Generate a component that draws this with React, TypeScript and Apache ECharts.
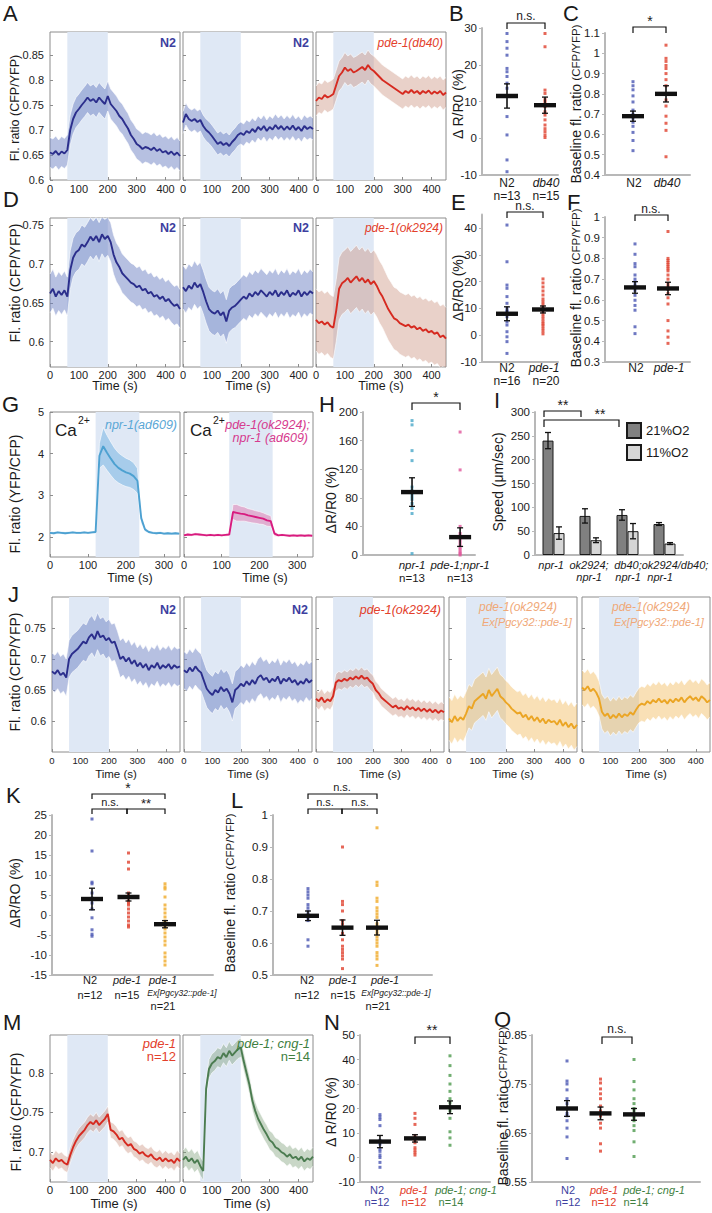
import React, { useEffect, useRef } from 'react';
import * as echarts from 'echarts';

const FONT = "'Liberation Sans', Arial, Helvetica, sans-serif";

// ---------- time bases ----------
const TIME_S = [0,10,20,30,40,50,60,70,80,90,100,110,120,130,140,150,160,170,180,190,200,210,220,230,240,250,260,270,280,290,300,310,320,330,340,350,360,370,380,390,400,410,420,430,440,450];
const TIME_G = [0,10,20,30,40,50,60,70,80,90,100,110,120,130,140,150,160,170,180,190,200,210,220,230,240,250,260,270,280,290,300,310,320,330,340];

// ---------- traces (mean) ----------
const A1_N2 = [0.655,0.652,0.658,0.650,0.657,0.653,0.660,0.700,0.722,0.735,0.742,0.750,0.757,0.765,0.758,0.762,0.755,0.765,0.758,0.752,0.768,0.752,0.745,0.738,0.728,0.722,0.712,0.703,0.690,0.682,0.672,0.668,0.662,0.666,0.664,0.660,0.665,0.658,0.662,0.655,0.658,0.652,0.657,0.650,0.655,0.648];
const A2_N2 = [0.715,0.732,0.722,0.718,0.722,0.716,0.720,0.708,0.700,0.695,0.688,0.680,0.672,0.676,0.670,0.674,0.668,0.676,0.682,0.690,0.694,0.690,0.698,0.694,0.702,0.696,0.706,0.700,0.708,0.698,0.706,0.701,0.710,0.702,0.708,0.700,0.707,0.701,0.709,0.700,0.706,0.698,0.708,0.702,0.706,0.702];
const A3_DB40 = [0.758,0.765,0.762,0.770,0.765,0.768,0.772,0.790,0.808,0.815,0.825,0.818,0.822,0.815,0.818,0.822,0.826,0.820,0.830,0.822,0.818,0.812,0.806,0.800,0.796,0.792,0.788,0.784,0.780,0.776,0.772,0.778,0.774,0.780,0.774,0.778,0.772,0.778,0.774,0.779,0.772,0.777,0.773,0.778,0.770,0.775];
const D1_N2 = [0.662,0.668,0.658,0.665,0.660,0.666,0.658,0.692,0.708,0.715,0.718,0.725,0.722,0.728,0.735,0.730,0.736,0.728,0.738,0.732,0.736,0.728,0.712,0.702,0.696,0.688,0.684,0.680,0.676,0.674,0.670,0.672,0.666,0.668,0.662,0.664,0.658,0.660,0.655,0.658,0.652,0.655,0.650,0.646,0.648,0.642];
const D2_N2 = [0.670,0.665,0.672,0.668,0.676,0.670,0.674,0.664,0.652,0.642,0.638,0.636,0.640,0.634,0.638,0.626,0.640,0.644,0.646,0.650,0.654,0.658,0.655,0.662,0.658,0.664,0.660,0.666,0.662,0.658,0.664,0.660,0.666,0.658,0.664,0.660,0.666,0.658,0.663,0.660,0.666,0.658,0.664,0.660,0.665,0.662];
const D3_OK2924 = [0.628,0.624,0.626,0.622,0.625,0.620,0.618,0.640,0.668,0.675,0.678,0.682,0.676,0.680,0.684,0.678,0.682,0.676,0.680,0.674,0.678,0.672,0.664,0.658,0.650,0.642,0.636,0.630,0.628,0.624,0.622,0.620,0.622,0.618,0.620,0.616,0.618,0.614,0.616,0.612,0.614,0.610,0.612,0.606,0.608,0.604];
const G1_NPR1 = [2.10,2.09,2.11,2.10,2.09,2.10,2.11,2.10,2.10,2.11,2.10,2.11,2.12,3.95,4.18,4.02,3.88,3.75,3.66,3.60,3.55,3.52,3.46,3.35,2.45,2.18,2.12,2.10,2.09,2.10,2.08,2.09,2.08,2.09,2.08];
const G1_SEM = [0.03,0.03,0.03,0.03,0.03,0.03,0.03,0.03,0.03,0.03,0.03,0.03,0.03,0.30,0.45,0.42,0.40,0.38,0.36,0.35,0.34,0.33,0.32,0.30,0.12,0.05,0.03,0.03,0.03,0.03,0.03,0.03,0.03,0.03,0.03];
const G2_PDE1NPR1 = [2.04,2.06,2.05,2.07,2.06,2.05,2.04,2.05,2.04,2.05,2.04,2.05,2.06,2.60,2.58,2.56,2.55,2.52,2.50,2.48,2.46,2.44,2.40,2.38,2.08,2.04,2.05,2.04,2.03,2.04,2.03,2.04,2.03,2.04,2.03];
const G2_SEM = [0.03,0.03,0.03,0.03,0.03,0.03,0.03,0.03,0.03,0.03,0.03,0.03,0.03,0.18,0.20,0.18,0.17,0.16,0.16,0.15,0.15,0.14,0.14,0.13,0.06,0.03,0.03,0.03,0.03,0.03,0.03,0.03,0.03,0.03,0.03];
const J1_N2 = [0.680,0.676,0.682,0.674,0.678,0.670,0.700,0.708,0.712,0.716,0.722,0.728,0.725,0.735,0.740,0.732,0.745,0.735,0.738,0.730,0.734,0.726,0.728,0.715,0.700,0.704,0.696,0.702,0.692,0.698,0.688,0.694,0.686,0.692,0.682,0.690,0.686,0.694,0.684,0.690,0.686,0.692,0.684,0.690,0.686,0.688];
const J2_N2 = [0.682,0.678,0.686,0.680,0.688,0.682,0.678,0.665,0.652,0.646,0.642,0.650,0.646,0.655,0.648,0.652,0.644,0.630,0.650,0.654,0.660,0.656,0.664,0.658,0.666,0.660,0.670,0.674,0.666,0.670,0.662,0.668,0.664,0.672,0.660,0.668,0.664,0.670,0.662,0.666,0.658,0.664,0.660,0.668,0.662,0.666];
const J3_OK2924 = [0.636,0.632,0.638,0.630,0.635,0.632,0.640,0.662,0.666,0.664,0.668,0.665,0.670,0.667,0.672,0.668,0.673,0.668,0.670,0.664,0.660,0.650,0.645,0.638,0.634,0.630,0.626,0.622,0.625,0.620,0.622,0.618,0.624,0.619,0.622,0.617,0.621,0.616,0.620,0.615,0.619,0.614,0.618,0.613,0.617,0.614];
const J4_RESCUE_A = [0.604,0.598,0.608,0.600,0.606,0.602,0.612,0.624,0.620,0.632,0.636,0.640,0.644,0.636,0.650,0.640,0.646,0.652,0.640,0.636,0.630,0.626,0.620,0.616,0.612,0.614,0.606,0.610,0.602,0.608,0.600,0.606,0.598,0.604,0.596,0.602,0.598,0.600,0.594,0.602,0.592,0.598,0.590,0.596,0.588,0.594];
const J5_RESCUE_B = [0.654,0.650,0.656,0.648,0.652,0.646,0.636,0.615,0.608,0.612,0.604,0.610,0.605,0.612,0.606,0.611,0.608,0.614,0.610,0.618,0.625,0.628,0.626,0.632,0.628,0.634,0.630,0.636,0.630,0.634,0.628,0.635,0.630,0.636,0.632,0.638,0.630,0.636,0.640,0.634,0.638,0.632,0.640,0.636,0.630,0.634];
const M1_PDE1 = [0.690,0.686,0.692,0.688,0.690,0.686,0.684,0.696,0.706,0.714,0.720,0.724,0.728,0.734,0.738,0.735,0.740,0.734,0.738,0.742,0.748,0.728,0.726,0.722,0.716,0.718,0.712,0.708,0.710,0.704,0.702,0.698,0.700,0.696,0.694,0.697,0.692,0.690,0.693,0.688,0.692,0.688,0.690,0.686,0.692,0.688];
const M2_CNG1 = [0.690,0.694,0.688,0.692,0.686,0.690,0.682,0.676,0.780,0.805,0.812,0.815,0.820,0.818,0.825,0.820,0.828,0.822,0.826,0.830,0.832,0.815,0.800,0.785,0.765,0.752,0.742,0.735,0.728,0.722,0.715,0.712,0.706,0.704,0.700,0.698,0.694,0.697,0.692,0.694,0.690,0.694,0.688,0.692,0.690,0.694];

// ---------- tick labels ----------
const X_TICKS = [0, 100, 200, 300, 400];
const X_TICKS_G = [0, 100, 200, 300];
const Y_A = [0.6, 0.65, 0.7, 0.75, 0.8, 0.85];
const Y_D = [0.6, 0.65, 0.7, 0.75];
const Y_G = [2, 3, 4, 5];
const Y_J = [0.6, 0.65, 0.7, 0.75];
const Y_M = [0.7, 0.75, 0.8];
const Y_B = [-10, 0, 10, 20, 30];
const Y_C = [0.4, 0.5, 0.6, 0.7, 0.8, 0.9, 1, 1.1];
const Y_E = [-10, 0, 10, 20, 30, 40];
const Y_F = [0.3, 0.4, 0.5, 0.6, 0.7, 0.8, 0.9, 1];
const Y_H = [0, 40, 80, 120, 160, 200];
const Y_I = [0, 50, 100, 150, 200, 250, 300];
const Y_K = [-15, -10, -5, 0, 5, 10, 15, 20, 25];
const Y_L = [0.5, 0.6, 0.7, 0.8, 0.9, 1];
const Y_N = [-10, 0, 10, 20, 30, 40, 50];
const Y_O = [0.55, 0.65, 0.75, 0.85];

// ---------- scatter data ----------
const B_N2 = [28.5, 26.3, 24.5, 22.6, 19.0, 18.1, 16.8, 15.0, 13.6, 5.9, 0.9, -5.9, -9.1];
const B_DB40 = [28.5, 24.9, 13.1, 12.2, 10.5, 9.8, 8.6, 7.2, 6.3, 5.0, 3.6, 2.6, 1.8, 0.9, 0.2];
const B_MEAN = [11.5, 9.0];
const B_SEM = [3.3, 2.2];
const C_N2 = [0.86, 0.84, 0.82, 0.79, 0.76, 0.72, 0.70, 0.68, 0.66, 0.64, 0.61, 0.57, 0.52];
const C_DB40 = [1.04, 0.975, 0.96, 0.94, 0.925, 0.90, 0.87, 0.84, 0.80, 0.77, 0.74, 0.69, 0.655, 0.62, 0.49];
const C_MEAN = [0.69, 0.80];
const C_SEM = [0.025, 0.04];
const E_N2 = [41.1, 27.4, 18.7, 17.5, 14.4, 11.9, 10.0, 9.0, 8.8, 6.9, 5.0, 3.8, 1.3, -0.6, -2.4, -6.8];
const E_PDE1 = [21, 19.5, 18, 16.5, 15, 13.5, 12.5, 11.5, 10.5, 9.8, 9, 8, 7, 6, 5, 4.2, 3.5, 2.5, 1.5, 0.5];
const E_MEAN = [8.0, 9.6];
const E_SEM = [2.6, 1.3];
const F_N2 = [0.87, 0.82, 0.775, 0.76, 0.72, 0.70, 0.686, 0.67, 0.66, 0.646, 0.622, 0.598, 0.573, 0.55, 0.47, 0.437];
const F_PDE1 = [0.93, 0.80, 0.79, 0.78, 0.77, 0.76, 0.75, 0.74, 0.72, 0.70, 0.68, 0.665, 0.65, 0.63, 0.61, 0.58, 0.50, 0.45, 0.42, 0.39];
const F_MEAN = [0.66, 0.655];
const F_SEM = [0.028, 0.03];
const H_NPR1 = [188, 182, 146, 132, 95, 90, 86, 82, 78, 72, 65, 58, 2];
const H_PDE1NPR1 = [172, 119, 40, 30, 26, 22, 18, 14, 10, 7, 4, 2, 0];
const H_MEAN = [88, 25];
const H_SEM = [20, 13];
const K_N2 = [24, 16, 8.2, 7.8, 5.5, 4.2, 3, 1.5, -0.7, -3.7, -4.8, -5.3];
const K_PDE1 = [15.5, 13.2, 11.5, 5.5, 5, 4.5, 3.5, 3, 2.5, 1.5, 0.5, -0.5, -1.5, -2.5, -3];
const K_EX = [7.8, 7, 6.5, 4.5, 2.5, 1.5, 0.5, -0.5, -1.5, -2, -2.5, -3, -3.5, -4.5, -5.5, -6.5, -7.5, -9.5, -10.5, -11.5, -12.5];
const K_MEAN = [4.0, 4.5, -2.3];
const K_SEM = [2.7, 1.0, 0.9];
const L_N2 = [0.77, 0.76, 0.75, 0.74, 0.72, 0.71, 0.70, 0.69, 0.68, 0.67, 0.61, 0.59];
const L_PDE1 = [0.90, 0.73, 0.72, 0.70, 0.67, 0.66, 0.65, 0.63, 0.61, 0.59, 0.58, 0.57, 0.56, 0.55, 0.52];
const L_EX = [0.96, 0.79, 0.78, 0.74, 0.73, 0.71, 0.70, 0.69, 0.68, 0.66, 0.65, 0.64, 0.63, 0.62, 0.61, 0.60, 0.59, 0.57, 0.56, 0.55, 0.53];
const L_MEAN = [0.685, 0.648, 0.648];
const L_SEM = [0.015, 0.024, 0.023];
const N_N2 = [17.5, 16.5, 15.5, 13, 7, 5.5, 3.5, 2.5, 1, 0, -2, -4];
const N_PDE1 = [18, 16, 13.5, 9, 8, 7.5, 7, 6, 4, 3, 2, 1];
const N_CNG1 = [41.5, 37.5, 33.5, 30, 27, 24, 22.5, 21, 20, 19, 16, 10.5, 8, 5];
const N_MEAN = [6.5, 7.8, 20.5];
const N_SEM = [2.5, 1.5, 2.6];
const O_N2 = [0.797, 0.756, 0.75, 0.738, 0.72, 0.71, 0.69, 0.685, 0.675, 0.66, 0.642, 0.598];
const O_PDE1 = [0.76, 0.752, 0.74, 0.73, 0.72, 0.705, 0.695, 0.685, 0.67, 0.66, 0.628, 0.613];
const O_CNG1 = [0.80, 0.755, 0.738, 0.72, 0.71, 0.70, 0.695, 0.685, 0.68, 0.675, 0.665, 0.655, 0.632, 0.602];
const O_MEAN = [0.70, 0.69, 0.688];
const O_SEM = [0.016, 0.013, 0.012];

// ---------- bar data (I) ----------
const I_CATS = ['npr-1', 'ok2924; npr-1', 'db40; npr-1', 'ok2924/db40; npr-1'];
const SPEED_21 = [240, 82, 84, 65];
const ERR_21 = [17, 15, 11, 3];
const SPEED_11 = [46, 31, 50, 24];
const ERR_11 = [13, 5, 16, 2];

// ---------- styles ----------
const NAVY = '#2b2e8c', NAVY_BAND = 'rgba(110,130,195,0.5)';
const RED = '#d62a20', RED_BAND = 'rgba(200,140,120,0.4)';
const ORANGE = '#eba524', ORANGE_BAND = 'rgba(240,180,80,0.42)';
const GREEN = '#4b7c50', GREEN_BAND = 'rgba(120,155,115,0.4)';
const SKY = '#4da1d1', SKY_BAND = 'rgba(100,170,225,0.45)';
const MAG = '#d81b7f', MAG_BAND = 'rgba(225,90,155,0.4)';
const SHADE = '#dfe8f5';
const FRAME = '#8c8c8c';
const AXIS_GRAY = '#b8b8b8';
const DOT_BLUE = '#4a56b3', DOT_RED = '#e0412e', DOT_ORANGE = '#f0aa28', DOT_GREEN = '#4e9a4e', DOT_TEAL = '#4aa8c8', DOT_PINK = '#e0559a';
const TXT_BLUE = '#3d3fa0', TXT_RED = '#e3402b', TXT_GREEN = '#3f7f3f', TXT_PEACH = '#f0a878';

const fmt = (v: number) => `${parseFloat(Number(v).toFixed(3))}`;

function tracePanel(o: any, c: any) {
  const gi = o.grid.length;
  o.grid.push({ left: c.left, top: c.top, width: c.width, height: c.height, show: true, borderColor: FRAME, borderWidth: 1, backgroundColor: 'rgba(0,0,0,0)' });
  o.xAxis.push({
    type: 'value', gridIndex: gi, min: 0, max: c.xMax,
    splitLine: { show: false }, axisLine: { show: false },
    axisTick: { show: true, inside: true, length: 3, lineStyle: { color: FRAME }, customValues: c.xTicks },
    axisLabel: { show: true, customValues: c.xTicks, fontSize: c.xFont, fontFamily: FONT, color: '#222', margin: c.xMargin, formatter: fmt },
  });
  o.yAxis.push({
    type: 'value', gridIndex: gi, min: c.yMin, max: c.yMax,
    splitLine: { show: false }, axisLine: { show: false },
    axisTick: { show: true, inside: true, length: 3, lineStyle: { color: FRAME }, customValues: c.yTicks },
    axisLabel: { show: c.showY, customValues: c.yTicks, fontSize: 11, fontFamily: FONT, color: '#222', margin: 6, formatter: fmt },
  });
  const t: number[] = c.t, m: number[] = c.mean;
  const s = (i: number) => (Array.isArray(c.sem) ? c.sem[i] : c.sem);
  const yMin = c.yMin, yMax = c.yMax, sh = c.shade;
  o.series.push({
    type: 'custom', coordinateSystem: 'cartesian2d', xAxisIndex: gi, yAxisIndex: gi, silent: true, z: 1,
    data: [[sh[0], yMin]],
    renderItem: (_p: any, api: any) => {
      const a = api.coord([sh[0], yMax]);
      const b = api.coord([sh[1], yMin]);
      return { type: 'rect', shape: { x: a[0], y: a[1], width: b[0] - a[0], height: b[1] - a[1] }, style: { fill: SHADE } };
    },
  });
  o.series.push({
    type: 'custom', coordinateSystem: 'cartesian2d', xAxisIndex: gi, yAxisIndex: gi, silent: true, z: 2,
    data: [[t[0], m[0]]],
    renderItem: (_p: any, api: any) => {
      const up = t.map((x, i) => api.coord([x, Math.min(yMax, m[i] + s(i))]));
      const lo = t.map((x, i) => api.coord([x, Math.max(yMin, m[i] - s(i))])).reverse();
      return { type: 'polygon', shape: { points: up.concat(lo) }, style: { fill: c.band } };
    },
  });
  [1, -1].forEach((sign) => {
    o.series.push({
      type: 'line', xAxisIndex: gi, yAxisIndex: gi, silent: true, z: 3, symbol: 'none',
      data: t.map((x, i) => [x, m[i] + sign * s(i)]),
      lineStyle: { color: '#ffffff', width: 0.8, opacity: 0.75 },
    });
  });
  o.series.push({
    type: 'line', xAxisIndex: gi, yAxisIndex: gi, silent: true, z: 4, symbol: 'none',
    data: t.map((x, i) => [x, m[i]]),
    lineStyle: { color: c.color, width: 1.9 },
  });
}

const meanSem = (_p: any, api: any) => {
  const x = api.value(0), m = api.value(1), s = api.value(2);
  const c = api.coord([x, m]);
  const t = api.coord([x, m + s]);
  const b = api.coord([x, m - s]);
  return {
    type: 'group',
    children: [
      { type: 'line', shape: { x1: c[0], y1: t[1], x2: c[0], y2: b[1] }, style: { stroke: '#111', lineWidth: 1.6 } },
      { type: 'line', shape: { x1: c[0] - 3, y1: t[1], x2: c[0] + 3, y2: t[1] }, style: { stroke: '#111', lineWidth: 1.3 } },
      { type: 'line', shape: { x1: c[0] - 3, y1: b[1], x2: c[0] + 3, y2: b[1] }, style: { stroke: '#111', lineWidth: 1.3 } },
      { type: 'rect', shape: { x: c[0] - 11, y: c[1] - 2.2, width: 22, height: 4.4 }, style: { fill: '#111' } },
    ],
  };
};

function scatterPanel(o: any, c: any) {
  const gi = o.grid.length;
  o.grid.push({ left: c.left, top: c.top, width: c.width, height: c.height, show: false });
  o.xAxis.push({
    type: 'value', gridIndex: gi, min: c.xMin, max: c.xMax, splitLine: { show: false },
    axisLine: { show: true, onZero: false, lineStyle: { color: AXIS_GRAY, width: 2 } },
    axisTick: { show: false }, axisLabel: { show: false },
  });
  o.yAxis.push({
    type: 'value', gridIndex: gi, min: c.yMin, max: c.yMax, splitLine: { show: false },
    axisLine: { show: true, onZero: false, lineStyle: { color: AXIS_GRAY, width: 2 } },
    axisTick: { show: true, length: 3, lineStyle: { color: AXIS_GRAY }, customValues: c.yTicks },
    axisLabel: { show: true, customValues: c.yTicks, fontSize: 11.5, fontFamily: FONT, color: '#1a1a1a', margin: 5, formatter: fmt },
  });
  c.groups.forEach((g: any, k: number) => {
    o.series.push({
      type: 'scatter', xAxisIndex: gi, yAxisIndex: gi, silent: true, z: 3,
      data: g.values.map((v: number) => [k + 1, v]),
      symbol: 'rect', symbolSize: 3, itemStyle: { color: g.color },
    });
  });
  o.series.push({
    type: 'custom', coordinateSystem: 'cartesian2d', xAxisIndex: gi, yAxisIndex: gi, silent: true, z: 5,
    dimensions: ['x', 'y', 's'], encode: { x: 0, y: 1 },
    data: c.groups.map((_g: any, k: number) => [k + 1, c.mean[k], c.sem[k]]),
    renderItem: meanSem,
  });
}

const txt = (x: number, y: number, text: string, o: any = {}) => ({
  type: 'text', x, y, rotation: o.rot || 0, silent: true, z: 100,
  style: {
    text, fill: o.color || '#1a1a1a', fontSize: o.size || 12, fontFamily: FONT,
    fontStyle: o.italic ? 'italic' : 'normal', fontWeight: o.bold ? 'bold' : 'normal',
    align: o.align || 'center', verticalAlign: o.va || 'middle',
    textAlign: o.align || 'center', textVerticalAlign: o.va || 'middle',
    ...(o.rich ? { rich: o.rich } : {}),
  },
});
const bracket = (x1: number, x2: number, y: number, leg: number) => ({
  type: 'polyline', silent: true, z: 100,
  shape: { points: [[x1, y + leg], [x1, y], [x2, y], [x2, y + leg]] },
  style: { stroke: '#111', lineWidth: 1.2, fill: null },
});
const ROT = Math.PI / 2;
const baselineTitle = (x: number, y: number) =>
  txt(x, y, '{a|Baseline fl. ratio} {b|(CFP/YFP)}', {
    rot: ROT,
    rich: { a: { fontSize: 14, fontFamily: FONT, fill: '#1a1a1a' }, b: { fontSize: 11.5, fontFamily: FONT, fill: '#1a1a1a' } },
  });

function buildOption() {
  const o: any = { animation: false, grid: [], xAxis: [], yAxis: [], series: [], graphic: { elements: [] } };
  const base = { xMax: 450, t: TIME_S, xTicks: X_TICKS, shade: [60, 200] };

  // Row A
  const rowA = { ...base, top: 32, height: 148, yMin: 0.6, yMax: 0.896, yTicks: Y_A, xFont: 11, xMargin: 3 };
  tracePanel(o, { ...rowA, left: 50, width: 130, showY: true, mean: A1_N2, sem: 0.03, color: NAVY, band: NAVY_BAND });
  tracePanel(o, { ...rowA, left: 183, width: 130, showY: false, mean: A2_N2, sem: 0.022, color: NAVY, band: NAVY_BAND });
  tracePanel(o, { ...rowA, left: 316, width: 130, showY: false, mean: A3_DB40, sem: 0.03, color: RED, band: RED_BAND });
  // Row D
  const rowD = { ...base, top: 218, height: 149, yMin: 0.5675, yMax: 0.759, yTicks: Y_D, xFont: 11, xMargin: 2 };
  tracePanel(o, { ...rowD, left: 50, width: 130, showY: true, mean: D1_N2, sem: 0.025, color: NAVY, band: NAVY_BAND });
  tracePanel(o, { ...rowD, left: 183, width: 130, showY: false, mean: D2_N2, sem: 0.028, color: NAVY, band: NAVY_BAND });
  tracePanel(o, { ...rowD, left: 316, width: 130, showY: false, mean: D3_OK2924, sem: 0.04, color: RED, band: RED_BAND });
  // Row G
  const rowG = { xMax: 342, t: TIME_G, xTicks: X_TICKS_G, shade: [120, 235], top: 412, height: 145, yMin: 1.52, yMax: 5, yTicks: Y_G, xFont: 11, xMargin: 2 };
  tracePanel(o, { ...rowG, left: 50, width: 130, showY: true, mean: G1_NPR1, sem: G1_SEM, color: SKY, band: SKY_BAND });
  tracePanel(o, { ...rowG, left: 184, width: 129, showY: false, mean: G2_PDE1NPR1, sem: G2_SEM, color: MAG, band: MAG_BAND });
  // Row J
  const rowJ = { ...base, top: 597, height: 155, yMin: 0.55, yMax: 0.8, yTicks: Y_J, xFont: 9.5, xMargin: 3 };
  tracePanel(o, { ...rowJ, left: 52, width: 128, showY: true, mean: J1_N2, sem: 0.03, color: NAVY, band: NAVY_BAND });
  tracePanel(o, { ...rowJ, left: 184, width: 128, showY: false, mean: J2_N2, sem: 0.03, color: NAVY, band: NAVY_BAND });
  tracePanel(o, { ...rowJ, left: 316, width: 128, showY: false, mean: J3_OK2924, sem: 0.014, color: RED, band: RED_BAND });
  tracePanel(o, { ...rowJ, left: 449, width: 128, showY: false, mean: J4_RESCUE_A, sem: 0.035, color: ORANGE, band: ORANGE_BAND });
  tracePanel(o, { ...rowJ, left: 582, width: 128, showY: false, mean: J5_RESCUE_B, sem: 0.028, color: ORANGE, band: ORANGE_BAND });
  // Row M
  const rowM = { ...base, top: 1035, height: 147, yMin: 0.662, yMax: 0.848, yTicks: Y_M, xFont: 11.5, xMargin: 2 };
  tracePanel(o, { ...rowM, left: 50, width: 130, showY: true, mean: M1_PDE1, sem: 0.01, color: RED, band: RED_BAND });
  tracePanel(o, { ...rowM, left: 183, width: 130, showY: false, mean: M2_CNG1, sem: 0.012, color: GREEN, band: GREEN_BAND });

  // Scatter panels
  scatterPanel(o, { left: 482, top: 28, width: 76, height: 147, xMin: 0.342, xMax: 2.342, yMin: -10, yMax: 30, yTicks: Y_B, mean: B_MEAN, sem: B_SEM,
    groups: [{ values: B_N2, color: DOT_BLUE }, { values: B_DB40, color: DOT_RED }] });
  scatterPanel(o, { left: 605, top: 33, width: 85, height: 142, xMin: 0.152, xMax: 2.727, yMin: 0.4, yMax: 1.1, yTicks: Y_C, mean: C_MEAN, sem: C_SEM,
    groups: [{ values: C_N2, color: DOT_BLUE }, { values: C_DB40, color: DOT_RED }] });
  scatterPanel(o, { left: 482, top: 214.6, width: 76, height: 147.4, xMin: 0.306, xMax: 2.417, yMin: -10, yMax: 45, yTicks: Y_E, mean: E_MEAN, sem: E_SEM,
    groups: [{ values: E_N2, color: DOT_BLUE }, { values: E_PDE1, color: DOT_RED }] });
  scatterPanel(o, { left: 605, top: 217, width: 85, height: 145, xMin: 0.091, xMax: 2.667, yMin: 0.3, yMax: 1, yTicks: Y_F, mean: F_MEAN, sem: F_SEM,
    groups: [{ values: F_N2, color: DOT_BLUE }, { values: F_PDE1, color: DOT_RED }] });
  scatterPanel(o, { left: 363, top: 412, width: 112, height: 143, xMin: -0.02, xMax: 2.31, yMin: 0, yMax: 200, yTicks: Y_H, mean: H_MEAN, sem: H_SEM,
    groups: [{ values: H_NPR1, color: DOT_TEAL }, { values: H_PDE1NPR1, color: DOT_PINK }] });
  scatterPanel(o, { left: 52, top: 815, width: 161, height: 160, xMin: -0.096, xMax: 4.315, yMin: -15, yMax: 25, yTicks: Y_K, mean: K_MEAN, sem: K_SEM,
    groups: [{ values: K_N2, color: DOT_BLUE }, { values: K_PDE1, color: DOT_RED }, { values: K_EX, color: DOT_ORANGE }] });
  scatterPanel(o, { left: 273, top: 815, width: 159, height: 160, xMin: -0.014, xMax: 4.594, yMin: 0.5, yMax: 1, yTicks: Y_L, mean: L_MEAN, sem: L_SEM,
    groups: [{ values: L_N2, color: DOT_BLUE }, { values: L_PDE1, color: DOT_RED }, { values: L_EX, color: DOT_ORANGE }] });
  scatterPanel(o, { left: 360, top: 1035, width: 130, height: 147, xMin: 0.43, xMax: 4.143, yMin: -10, yMax: 50, yTicks: Y_N, mean: N_MEAN, sem: N_SEM,
    groups: [{ values: N_N2, color: DOT_BLUE }, { values: N_PDE1, color: DOT_RED }, { values: N_CNG1, color: DOT_GREEN }] });
  scatterPanel(o, { left: 532, top: 1035, width: 168, height: 147, xMin: -0.045, xMax: 4.97, yMin: 0.55, yMax: 0.85, yTicks: Y_O, mean: O_MEAN, sem: O_SEM,
    groups: [{ values: O_N2, color: DOT_BLUE }, { values: O_PDE1, color: DOT_RED }, { values: O_CNG1, color: DOT_GREEN }] });

  // Bar panel I
  const bi = o.grid.length;
  o.grid.push({ left: 535, top: 412, width: 148, height: 143, show: false });
  o.xAxis.push({ type: 'category', gridIndex: bi, data: I_CATS, axisLine: { show: true, lineStyle: { color: AXIS_GRAY, width: 2 } }, axisTick: { show: false }, axisLabel: { show: false } });
  o.yAxis.push({
    type: 'value', gridIndex: bi, min: 0, max: 300, splitLine: { show: false },
    axisLine: { show: true, lineStyle: { color: AXIS_GRAY, width: 2 } },
    axisTick: { show: true, length: 3, lineStyle: { color: AXIS_GRAY }, customValues: Y_I },
    axisLabel: { show: true, customValues: Y_I, fontSize: 11.5, fontFamily: FONT, color: '#1a1a1a', margin: 5, formatter: fmt },
  });
  o.series.push({ name: '21%O2', type: 'bar', xAxisIndex: bi, yAxisIndex: bi, data: SPEED_21, barWidth: 11, barGap: '0%', silent: true,
    itemStyle: { color: '#808080', borderColor: '#1a1a1a', borderWidth: 1 } });
  o.series.push({ name: '11%O2', type: 'bar', xAxisIndex: bi, yAxisIndex: bi, data: SPEED_11, barWidth: 11, barGap: '0%', silent: true,
    itemStyle: { color: '#d6d6d6', borderColor: '#1a1a1a', borderWidth: 1 } });
  const errBars = (vals: number[], errs: number[], dx: number) => ({
    type: 'custom', coordinateSystem: 'cartesian2d', xAxisIndex: bi, yAxisIndex: bi, silent: true, z: 6,
    dimensions: ['x', 'y', 'e'], encode: { x: 0, y: 1 },
    data: vals.map((v, i) => [i, v, errs[i]]),
    renderItem: (_p: any, api: any) => {
      const i = api.value(0), v = api.value(1), e = api.value(2);
      const t = api.coord([i, v + e]);
      const b = api.coord([i, v - e]);
      const x = t[0] + dx;
      return {
        type: 'group', children: [
          { type: 'line', shape: { x1: x, y1: t[1], x2: x, y2: b[1] }, style: { stroke: '#111', lineWidth: 1.3 } },
          { type: 'line', shape: { x1: x - 3, y1: t[1], x2: x + 3, y2: t[1] }, style: { stroke: '#111', lineWidth: 1.3 } },
          { type: 'line', shape: { x1: x - 3, y1: b[1], x2: x + 3, y2: b[1] }, style: { stroke: '#111', lineWidth: 1.3 } },
        ],
      };
    },
  });
  o.series.push(errBars(SPEED_21, ERR_21, -5.5));
  o.series.push(errBars(SPEED_11, ERR_11, 5.5));
  o.legend = {
    data: ['21%O2', '11%O2'], orient: 'vertical', left: 621, top: 417, itemWidth: 14, itemHeight: 15, itemGap: 5,
    icon: 'rect', selectedMode: false, textStyle: { fontSize: 13, fontFamily: FONT, color: '#1a1a1a' },
  };

  // ---------- graphic texts ----------
  const g: any[] = o.graphic.elements;
  const letter = (x: number, y: number, s: string) => g.push(txt(x, y, s, { size: 22, align: 'left', va: 'top' }));
  letter(3, 2, 'A'); letter(449, 2, 'B'); letter(563, 2, 'C');
  letter(3, 188, 'D'); letter(451, 191, 'E'); letter(567, 191, 'F');
  letter(2, 393, 'G'); letter(319, 393, 'H'); letter(494, 389, 'I');
  letter(8, 583, 'J'); letter(6, 784, 'K'); letter(231, 789, 'L');
  letter(3, 1011, 'M'); letter(324, 1011, 'N'); letter(494, 1008, 'O');

  // Row A
  g.push(txt(15, 108, 'Fl. ratio (CFP/YFP)', { rot: ROT, size: 12.5 }));
  g.push(txt(176, 43, 'N2', { align: 'right', bold: true, color: TXT_BLUE, size: 12.5 }));
  g.push(txt(309, 43, 'N2', { align: 'right', bold: true, color: TXT_BLUE, size: 12.5 }));
  g.push(txt(443, 43, 'pde-1(db40)', { align: 'right', italic: true, color: TXT_RED, size: 12 }));
  // B
  g.push(txt(458, 104, 'Δ R/R0 (%)', { rot: ROT, size: 14 }));
  g.push(txt(507, 183, 'N2')); g.push(txt(546, 183, 'db40', { italic: true }));
  g.push(txt(507, 196, 'n=13')); g.push(txt(546, 196, 'n=15'));
  g.push(bracket(507, 545, 23, 6)); g.push(txt(526, 16, 'n.s.'));
  // C
  g.push(baselineTitle(576, 104));
  g.push(txt(634, 183, 'N2')); g.push(txt(667, 183, 'db40', { italic: true }));
  g.push(bracket(633, 666, 27, 6)); g.push(txt(650, 21, '*', { size: 14 }));
  // D
  g.push(txt(15, 283, 'Fl. ratio (CFP/YFP)', { rot: ROT, size: 14 }));
  g.push(txt(176, 228, 'N2', { align: 'right', bold: true, color: TXT_BLUE, size: 12.5 }));
  g.push(txt(309, 228, 'N2', { align: 'right', bold: true, color: TXT_BLUE, size: 12.5 }));
  g.push(txt(443, 228, 'pde-1(ok2924)', { align: 'right', italic: true, color: TXT_RED, size: 12 }));
  [115, 248, 381].forEach((x) => g.push(txt(x, 386, 'Time (s)', { size: 12.5 })));
  // E
  g.push(txt(458, 288, 'ΔR/R0 (%)', { rot: ROT, size: 14 }));
  g.push(txt(507, 368, 'N2')); g.push(txt(544, 368, 'pde-1', { italic: true }));
  g.push(txt(507, 381, 'n=16')); g.push(txt(546, 381, 'n=20'));
  g.push(bracket(507, 543, 212, 6)); g.push(txt(525, 206, 'n.s.'));
  // F
  g.push(baselineTitle(576, 288));
  g.push(txt(636, 368, 'N2')); g.push(txt(669, 368, 'pde-1', { italic: true }));
  g.push(bracket(635, 668, 215, 6)); g.push(txt(651, 209, 'n.s.'));
  // G
  g.push(txt(15, 494, 'Fl. ratio (YFP/CFP)', { rot: ROT, size: 14 }));
  g.push(txt(55, 430, 'Ca', { align: 'left', size: 17 })); g.push(txt(78, 420, '2+', { align: 'left', size: 10.5 }));
  g.push(txt(190, 430, 'Ca', { align: 'left', size: 17 })); g.push(txt(213, 420, '2+', { align: 'left', size: 10.5 }));
  g.push(txt(177, 425, 'npr-1(ad609)', { align: 'right', italic: true, color: '#5aa7d6', size: 12.5 }));
  g.push(txt(310, 425, 'pde-1(ok2924);', { align: 'right', italic: true, color: '#d63a8e', size: 12.5 }));
  g.push(txt(308, 438, 'npr-1 (ad609)', { align: 'right', italic: true, color: '#d63a8e', size: 12.5 }));
  g.push(txt(130, 578, 'Time (s)', { size: 12.5 })); g.push(txt(265, 578, 'Time (s)', { size: 12.5 }));
  // H
  g.push(txt(331, 500, 'ΔR/R0 (%)', { rot: ROT, size: 14 }));
  g.push(txt(412, 565, 'npr-1', { italic: true, size: 11.5 })); g.push(txt(460, 565, 'pde-1;npr-1', { italic: true, size: 11.5 }));
  g.push(txt(412, 578, 'n=13', { size: 11.5 })); g.push(txt(460, 578, 'n=13', { size: 11.5 }));
  g.push(bracket(412, 460, 403, 7)); g.push(txt(436, 397, '*', { size: 14 }));
  // I
  g.push(txt(498, 482, 'Speed (μm/sec)', { rot: ROT, size: 14 }));
  const il = { italic: true, size: 11 };
  g.push(txt(551, 565, 'npr-1', il));
  g.push(txt(589, 565, 'ok2924;', il)); g.push(txt(589, 577, 'npr-1', il));
  g.push(txt(628, 565, 'db40;', il)); g.push(txt(628, 577, 'npr-1', il));
  g.push(txt(675, 565, 'ok2924/db40;', il)); g.push(txt(660, 577, 'npr-1', il));
  g.push(bracket(544, 581, 411, 6)); g.push(txt(563, 405, '**', { size: 14 }));
  g.push(bracket(544, 619, 420, 7)); g.push(txt(600, 414, '**', { size: 14 }));
  // J
  g.push(txt(15, 672, 'Fl. ratio (CFP/YFP)', { rot: ROT, size: 14 }));
  g.push(txt(176, 610, 'N2', { align: 'right', bold: true, color: TXT_BLUE, size: 12.5 }));
  g.push(txt(308, 610, 'N2', { align: 'right', bold: true, color: TXT_BLUE, size: 12.5 }));
  g.push(txt(441, 610, 'pde-1(ok2924)', { align: 'right', italic: true, color: TXT_RED, size: 12.5 }));
  g.push(txt(479, 607, 'pde-1(ok2924)', { align: 'left', italic: true, color: TXT_PEACH, size: 12 }));
  g.push(txt(482, 622, 'Ex[Pgcy32::pde-1]', { align: 'left', italic: true, color: TXT_PEACH, size: 11 }));
  g.push(txt(612, 607, 'pde-1(ok2924)', { align: 'left', italic: true, color: TXT_PEACH, size: 12 }));
  g.push(txt(614, 622, 'Ex[Pgcy32::pde-1]', { align: 'left', italic: true, color: TXT_PEACH, size: 11 }));
  [116, 248, 380, 513, 646].forEach((x) => g.push(txt(x, 774, 'Time (s)', { size: 11.5 })));
  // K
  const kl = { size: 11 };
  const kli = { size: 11, italic: true };
  g.push(txt(15, 893, 'ΔR/RO (%)', { rot: ROT, size: 14 }));
  g.push(txt(90, 980, 'N2', kl)); g.push(txt(90, 995, 'n=12', kl));
  g.push(txt(127, 980, 'pde-1', kli)); g.push(txt(127, 995, 'n=15', kl));
  g.push(txt(163, 980, 'pde-1', kli));
  g.push(txt(182, 993, 'Ex[Pgcy32::pde-1]', { italic: true, size: 8.5 }));
  g.push(txt(163, 1006, 'n=21', kl));
  g.push(bracket(92, 165, 794, 5)); g.push(txt(128, 788, '*', { size: 14 }));
  g.push(bracket(92, 127, 809, 5)); g.push(bracket(127, 165, 809, 5));
  g.push(txt(110, 802, 'n.s.', { size: 11 })); g.push(txt(146, 803, '**', { size: 13 }));
  // L
  g.push(baselineTitle(230, 893));
  g.push(txt(307, 980, 'N2', kl)); g.push(txt(307, 995, 'n=12', kl));
  g.push(txt(343, 980, 'pde-1', kli)); g.push(txt(343, 995, 'n=15', kl));
  g.push(txt(385, 980, 'pde-1', kli));
  g.push(txt(396, 993, 'Ex[Pgcy32::pde-1]', { italic: true, size: 8.5 }));
  g.push(txt(378, 1006, 'n=21', kl));
  g.push(bracket(308, 377, 794, 5)); g.push(txt(342, 787, 'n.s.', { size: 11 }));
  g.push(bracket(308, 342, 809, 5)); g.push(bracket(342, 377, 809, 5));
  g.push(txt(325, 802, 'n.s.', { size: 11 })); g.push(txt(360, 802, 'n.s.', { size: 11 }));
  // M
  g.push(txt(16, 1112, 'Fl. ratio (CFP/YFP)', { rot: ROT, size: 14 }));
  g.push(txt(176, 1043, 'pde-1', { align: 'right', italic: true, color: TXT_RED, size: 13 }));
  g.push(txt(176, 1056, 'n=12', { align: 'right', color: TXT_RED, size: 13 }));
  g.push(txt(310, 1043, 'pde-1; cng-1', { align: 'right', italic: true, color: TXT_GREEN, size: 13 }));
  g.push(txt(310, 1056, 'n=14', { align: 'right', color: TXT_GREEN, size: 13 }));
  g.push(txt(114, 1203, 'Time (s)', { size: 13 })); g.push(txt(247, 1203, 'Time (s)', { size: 13 }));
  // N
  const nb = { size: 11, color: TXT_BLUE };
  const nr = { size: 11, color: TXT_RED };
  const ng = { size: 11, color: TXT_GREEN };
  g.push(txt(331, 1112, 'Δ R/R0 (%)', { rot: ROT, size: 14 }));
  g.push(txt(377, 1190, 'N2', nb)); g.push(txt(377, 1202, 'n=12', nb));
  g.push(txt(414, 1190, 'pde-1', { ...nr, italic: true })); g.push(txt(414, 1202, 'n=12', nr));
  g.push(txt(466, 1190, 'pde-1; cng-1', { ...ng, italic: true })); g.push(txt(451, 1202, 'n=14', ng));
  g.push(bracket(415, 450, 1037, 7)); g.push(txt(432, 1030, '**', { size: 14 }));
  // O
  g.push(baselineTitle(503, 1106));
  g.push(txt(568, 1190, 'N2', nb)); g.push(txt(568, 1202, 'n=12', nb));
  g.push(txt(604, 1190, 'pde-1', { ...nr, italic: true })); g.push(txt(604, 1202, 'n=12', nr));
  g.push(txt(654, 1190, 'pde-1; cng-1', { ...ng, italic: true })); g.push(txt(636, 1202, 'n=14', ng));
  g.push(bracket(602, 632, 1037, 7)); g.push(txt(617, 1029, 'n.s.'));

  return o;
}

export default function App() {
  const ref = useRef<HTMLDivElement>(null);
  useEffect(() => {
    if (!ref.current) return;
    const chart = echarts.init(ref.current, null, { renderer: 'svg', width: 712, height: 1213 });
    chart.setOption(buildOption());
    return () => chart.dispose();
  }, []);
  return (
    <div
      ref={ref}
      style={{ position: 'absolute', left: 0, top: 0, width: 712, height: 1213, background: '#ffffff' }}
    />
  );
}
